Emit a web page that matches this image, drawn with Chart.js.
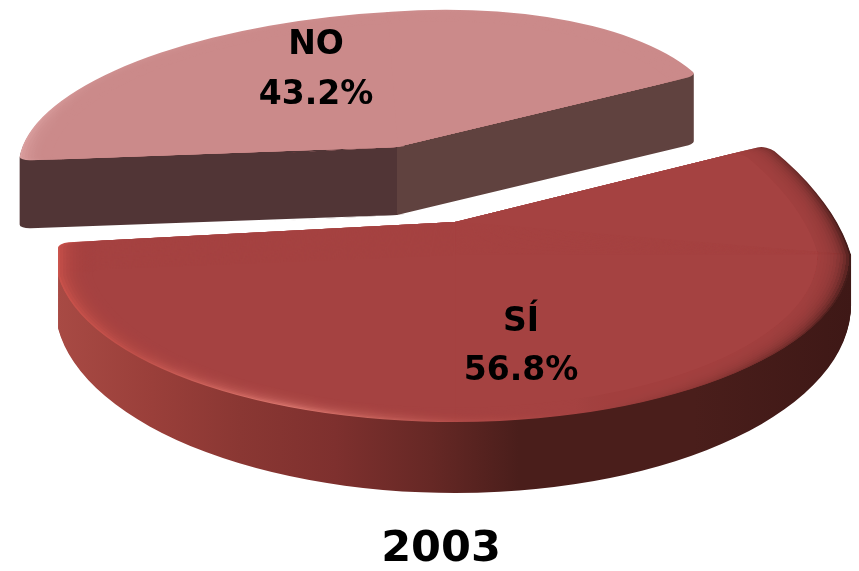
<!DOCTYPE html>
<html>
<head>
<meta charset="utf-8">
<style>
  html, body { margin: 0; background: #fff; }
  canvas { display: block; }
</style>
<script src="https://cdn.jsdelivr.net/npm/chart.js@4"></script>
</head>
<body>
<canvas id="pie2003" width="859" height="571"></canvas>
<script>
const categories = ["NO", "SÍ"];
const values = [43.2, 56.8];
const chartTitle = "2003";

const FONT = "'DejaVu Sans', sans-serif";

// fake 3D: each slice is drawn flat by chart.js, then pushed through its own
// quadrant matrices (tip + right/left/up/down axis vectors in screen px).
// drop = how far the front half's centre sits below the tip (perspective),
// wallDown = the down vector at the bottom of the wall, so the sides taper
const slices = [
  {
    tip: [397, 147], depth: 68, drop: 0, spin: 9,
    right: [325, -25], left: [-378, 22], up: [-10, -135], down: [0, 50], wallDown: 50,
    top: "#cb8a8a",
    rim: [[0, "#dba0a0"], [0.1, "#cf9090"], [1, "#cb8a8a"]],
    wall: [[0, "#513536"], [0.552, "#513536"], [0.5521, "#60423f"], [1, "#60423f"]],
    xRange: [20, 703],
    label: [316, 45, 95]
  },
  {
    tip: [455, 222], depth: 50, drop: 33, spin: 0,
    right: [396, 33], left: [-400, 5], up: [-62, -211], down: [0, 167], wallDown: 188,
    top: "#a54241",
    rim: [[0, "#c9514a"], [0.1, "#c0504a"], [0.29, "#da766e"], [0.4, "#c8635c"],
      [0.5, "#b34c49"], [0.65, "#a54241"], [0.82, "#8a3634"], [0.93, "#6a2a28"], [1, "#401a18"]],
    wall: [[0, "#a84a44"], [0.12, "#9a3f3a"], [0.23, "#8a3733"], [0.35, "#7e302e"],
      [0.47, "#662825"], [0.58, "#4a1e1b"], [0.8, "#4a1e1b"], [1, "#3e1816"]],
    xRange: [57, 853],
    label: [521, 322, 371]
  }
];

function drawQuadrant(ctx, arc, R, qx, qy, ux, uy, ox, oy) {
  ctx.save();
  ctx.transform(ux[0] / R, ux[1] / R, uy[0] / R, uy[1] / R, ox, oy);
  ctx.translate(-arc.x, -arc.y);
  ctx.beginPath();
  ctx.rect(qx > 0 ? arc.x - 0.5 : arc.x - 2 * R, qy > 0 ? arc.y - 0.5 : arc.y - 2 * R, 2 * R + 0.5, 2 * R + 0.5);
  ctx.clip();
  arc.draw(ctx);
  ctx.restore();
}

function drawFlat(ctx, arc, s, dy, color, radiusFactor, stacked) {
  const R = arc.outerRadius;
  const saved = { options: arc.options, startAngle: arc.startAngle, endAngle: arc.endAngle };
  const spin = s.spin * Math.PI / 180;
  arc.options = { ...saved.options, backgroundColor: color, borderWidth: 0 };
  arc.outerRadius = R * radiusFactor;
  arc.startAngle += spin;
  arc.endAngle += spin;

  const neg = v => [-v[0], -v[1]];
  const [tx, ty] = s.tip;
  const down = [s.down[0], s.down[1] + (s.wallDown - s.down[1]) * dy / s.depth];
  drawQuadrant(ctx, arc, R, 1, -1, s.right, neg(s.up), tx, ty + dy);
  drawQuadrant(ctx, arc, R, -1, -1, neg(s.left), neg(s.up), tx, ty + dy);
  for (let k = stacked ? 0 : s.drop; k <= s.drop; k++) {
    const f = s.drop ? 1 - k / s.drop : 1;
    drawQuadrant(ctx, arc, R, 1, 1, [s.right[0], s.right[1] * f], down, tx, ty + dy + k);
    drawQuadrant(ctx, arc, R, -1, 1, [-s.left[0], -s.left[1] * f], down, tx, ty + dy + k);
  }

  arc.outerRadius = R;
  arc.options = saved.options;
  arc.startAngle = saved.startAngle;
  arc.endAngle = saved.endAngle;
}

// paints a shape through a temp canvas, so stacked copies don't add up in alpha
function paintLayer(ctx, w, h, fill, alpha, drawShape) {
  const tmp = document.createElement("canvas");
  tmp.width = w;
  tmp.height = h;
  const t = tmp.getContext("2d");
  drawShape(t);
  if (fill) {
    t.globalCompositeOperation = "source-in";
    t.fillStyle = fill(t);
    t.fillRect(0, 0, w, h);
  }
  ctx.save();
  ctx.globalAlpha = alpha;
  ctx.drawImage(tmp, 0, 0);
  ctx.restore();
}

function horizontalGradient(stops, range) {
  return t => {
    const g = t.createLinearGradient(range[0], 0, range[1], 0);
    stops.forEach(st => g.addColorStop(st[0], st[1]));
    return g;
  };
}

const pie3d = {
  id: "pie3d",
  beforeDatasetsDraw(chart) {
    const ctx = chart.ctx;
    const arcs = chart.getDatasetMeta(0).data;
    const w = chart.width, h = chart.height;
    slices.forEach((s, i) => {
      const arc = arcs[i];
      paintLayer(ctx, w, h, horizontalGradient(s.wall, s.xRange), 1, t => {
        for (let dy = s.depth; dy > 0; dy--) drawFlat(t, arc, s, dy, "#000", 1, false);
      });
      paintLayer(ctx, w, h, horizontalGradient(s.rim, s.xRange), 1, t => {
        drawFlat(t, arc, s, 0, "#000", 1, true);
      });
      // soft bevel going into the flat top
      for (let k = 0; k < 10; k++) {
        paintLayer(ctx, w, h, null, 0.25, t => {
          drawFlat(t, arc, s, 0, s.top, 0.995 - k * 0.008, true);
        });
      }
      drawFlat(ctx, arc, s, 0, s.top, 0.915, true);
    });
    return false;
  },
  afterDraw(chart) {
    const ctx = chart.ctx;
    ctx.save();
    ctx.fillStyle = "#000";
    ctx.textAlign = "center";
    ctx.textBaseline = "middle";
    ctx.font = "bold 33px " + FONT;
    slices.forEach((s, i) => {
      ctx.fillText(categories[i], s.label[0], s.label[1]);
      ctx.fillText(values[i].toFixed(1) + "%", s.label[0], s.label[2]);
    });
    ctx.restore();
  }
};

new Chart(document.getElementById("pie2003"), {
  type: "pie",
  data: {
    labels: categories,
    datasets: [{
      data: values,
      backgroundColor: slices.map(s => s.top),
      borderWidth: 0,
      borderRadius: { outerStart: 8, outerEnd: 8, innerStart: 0, innerEnd: 0 }
    }]
  },
  options: {
    responsive: false,
    animation: false,
    rotation: 264.5,
    layout: { padding: { left: 23 } },
    plugins: {
      legend: { display: false },
      tooltip: { enabled: false },
      title: {
        display: true,
        text: chartTitle,
        position: "bottom",
        color: "#000",
        font: { family: FONT, size: 43, weight: "bold", lineHeight: 1 },
        padding: { top: 6, bottom: 0 }
      }
    }
  },
  plugins: [pie3d]
});
</script>
</body>
</html>
